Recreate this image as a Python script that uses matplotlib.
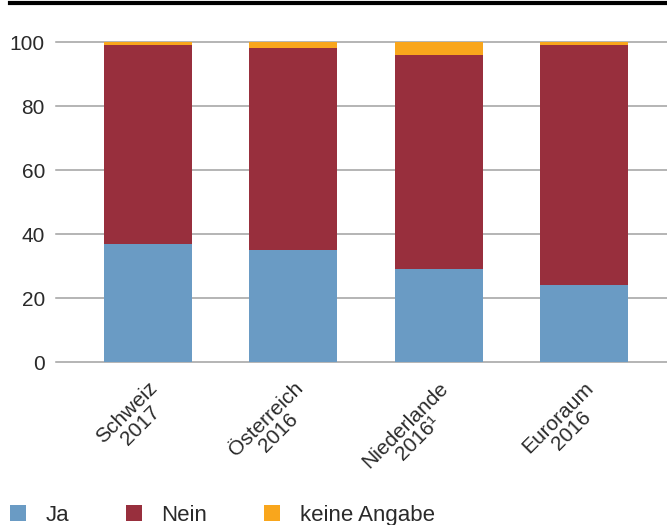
import matplotlib
matplotlib.use("Agg")
import matplotlib.pyplot as plt
from matplotlib.lines import Line2D
from matplotlib.transforms import ScaledTranslation
import numpy as np

plt.rcParams['font.family'] = ['Liberation Sans', 'DejaVu Sans']

# Werte in Prozent
laender = ["Schweiz\n2017", "Österreich\n2016", "Niederlande\n2016¹", "Euroraum\n2016"]
ja = [37, 35, 29, 24]
nein = [62, 63, 67, 75]
keine_angabe = [1, 2, 4, 1]
yticks = [0, 20, 40, 60, 80, 100]

farbe_ja = "#6a9bc4"
farbe_nein = "#982f3d"
farbe_keine = "#f9a61c"
textfarbe = "#2a2a2a"

fig = plt.figure(figsize=(6.67, 5.25), dpi=100)
ax = fig.add_axes([56 / 667, 1 - 362 / 525, 1 - 56 / 667, 320 / 525])

x = np.arange(len(laender))
breite = 0.606
ja_arr = np.array(ja)
nein_arr = np.array(nein)
ax.bar(x, ja_arr, breite, color=farbe_ja, label="Ja", zorder=2)
ax.bar(x, nein_arr, breite, bottom=ja_arr, color=farbe_nein, label="Nein", zorder=2)
ax.bar(x, keine_angabe, breite, bottom=ja_arr + nein_arr, color=farbe_keine,
       label="keine Angabe", zorder=2)

ax.set_xlim(-0.633, 3.571)
ax.set_ylim(0, 100)
ax.set_yticks(yticks)
ax.yaxis.grid(True, color="#a0a0a0", linewidth=1.1, zorder=1)
for g in ax.get_ygridlines():
    g.set_clip_on(False)
ax.tick_params(axis="y", length=0, pad=8, labelsize=15, labelcolor=textfarbe)
ax.tick_params(axis="x", length=0, pad=12, labelsize=15, labelcolor=textfarbe)
for s in ax.spines.values():
    s.set_visible(False)

ax.set_xticks(x)
ax.set_xticklabels(laender, rotation=45, ha="right", va="top",
                   rotation_mode="anchor", multialignment="center", linespacing=0.95)
for lab in ax.get_xticklabels():
    lab.set_transform(lab.get_transform() + ScaledTranslation(0, 0, fig.dpi_scale_trans))

# schwarze Linie oben
fig.add_artist(Line2D([10 / 667, 1], [1 - 3 / 525, 1 - 3 / 525], color="black",
                      linewidth=3, transform=fig.transFigure))

fig.legend(loc="lower left", bbox_to_anchor=(10 / 667, -1 / 525), ncol=3, frameon=False,
           fontsize=16, handlelength=0.72, handleheight=0.72, handletextpad=0.88,
           columnspacing=2.55, borderpad=0, borderaxespad=0, labelcolor=textfarbe)

fig.savefig("out.png", dpi=100)
